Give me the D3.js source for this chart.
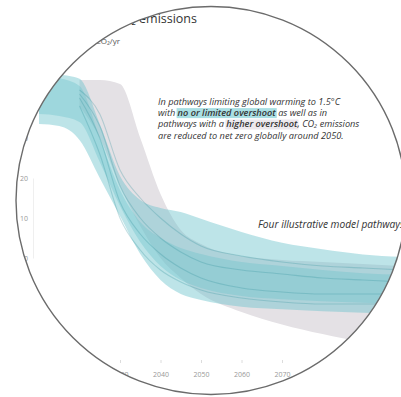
<!DOCTYPE html>
<html><head><meta charset="utf-8">
<script src="https://cdn.jsdelivr.net/npm/d3@7/dist/d3.min.js"></script>
<style>html,body{margin:0;padding:0;background:#fff;}svg{display:block;}text{white-space:pre;}</style>
</head><body>
<svg id="chart" width="401" height="397"></svg>
<script>
// ---- data (Billion tonnes of CO2/yr) ----
const years = [2010, 2015, 2020, 2025, 2030, 2035, 2040, 2045, 2050, 2060, 2070, 2080, 2090, 2100];
// no or limited overshoot: full range
const tealMax = [48, 46, 44.8, 33.5, 20.5, 14.5, 12.5, 11.5, 9.8, 6.5, 3.8, 2.2, 0.9, 0.3];
const tealMin = [33.5, 33, 29.5, 20, 10.5, 1, -5.5, -9, -10.5, -12.2, -12.8, -13.3, -13.7, -14];
// no or limited overshoot: central range
const innerMax = [46, 45, 43, 30, 17, 9, 5, 2.5, 1, -1, -2, -3, -3.8, -4.2];
const innerMin = [36, 35.5, 34, 24, 13, 4, -2, -5.5, -7.5, -9.5, -10.3, -10.8, -11.2, -11.5];
// higher overshoot
const grayMax = [null, null, 44.5, 44.5, 43.5, 30, 16, 7, 3.5, 0.5, -0.5, -1, -1.5, -2];
const grayMin = [null, null, 38, 30, 18, 8, 0, -5, -9, -13.5, -16.6, -19, -21, -22];
// four illustrative model pathways
const path1 = [null, null, 42, 36, 22, 15, 10, 6, 3, 0.5, -1, -2, -2.5, -3];
const path2 = [null, null, 41, 33, 18, 10, 5, 1.5, -1, -3, -4, -5, -5.5, -6];
const path3 = [null, null, 40, 30, 14, 6, 1, -2.5, -5, -7.5, -8.5, -9, -9, -9];
const path4 = [null, null, 38, 26, 10, 2, -3, -6, -8, -10, -11, -11.5, -11.5, -11.5];
const xTicks = [2020, 2030, 2040, 2050, 2060, 2070, 2080, 2090];
const yTicks = [-20, -10, 0, 10, 20, 30, 40, 50];

const title = "Global total net CO₂ emissions";
const subtitle = "Billion tonnes of CO₂/yr";
const noteLines = [
  [["In pathways limiting global warming to 1.5°C", null]],
  [["with ", null], ["no or limited overshoot", "teal"], [" as well as in", null]],
  [["pathways with a ", null], ["higher overshoot", "gray"], [", CO₂ emissions", null]],
  [["are reduced to net zero globally around 2050.", null]]
];
const pathwayLabel = "Four illustrative model pathways";

// ---- drawing ----
const svg = d3.select("#chart");
const lcx = 211, lcy = 200.5, lrx = 195, lry = 194;
svg.append("defs").append("clipPath").attr("id", "lens")
  .append("ellipse").attr("cx", lcx).attr("cy", lcy).attr("rx", lrx).attr("ry", lry);
const g = svg.append("g").attr("clip-path", "url(#lens)");
g.append("rect").attr("x", 0).attr("y", 0).attr("width", 401).attr("height", 397).attr("fill", "#fff");

const x = d3.scaleLinear().domain([2030, 2070]).range([120, 282]);
const y = d3.scaleLinear().domain([0, 20]).range([258, 178]);

// axes
const xAxis = g.append("g").attr("transform", "translate(0,360)")
  .call(d3.axisBottom(x).tickValues(xTicks).tickFormat(d3.format("d")).tickSize(3).tickPadding(9));
xAxis.select(".domain").remove();
xAxis.selectAll("line").attr("stroke", "#dcdcdc");
xAxis.selectAll("text").attr("fill", "#999").style("font", "7px 'Open Sans', sans-serif");

const yAxis = g.append("g").attr("transform", "translate(33,0)")
  .call(d3.axisLeft(y).tickValues(yTicks).tickSize(0).tickPadding(5));
yAxis.select(".domain").attr("stroke", "#efefef");
yAxis.selectAll("text").attr("fill", "#999").style("font", "7px 'Open Sans', sans-serif");

const idx = d3.range(years.length);
function band(lo, hi) {
  return d3.area().defined(i => lo[i] != null && hi[i] != null)
    .x(i => x(years[i])).y0(i => y(lo[i])).y1(i => y(hi[i])).curve(d3.curveMonotoneX)(idx);
}
function line(v) {
  return d3.line().defined(i => v[i] != null)
    .x(i => x(years[i])).y(i => y(v[i])).curve(d3.curveMonotoneX)(idx);
}

g.append("path").attr("d", band(grayMin, grayMax)).attr("fill", "#e4e1e5");
g.append("path").attr("d", band(tealMin, tealMax)).attr("fill", "#6cc3cb").attr("fill-opacity", 0.45);
g.append("path").attr("d", band(innerMin, innerMax)).attr("fill", "#6cc3cb").attr("fill-opacity", 0.38);
[path1, path2, path3, path4].forEach(p => {
  g.append("path").attr("d", line(p)).attr("fill", "none")
    .attr("stroke", "#2f8f9b").attr("stroke-opacity", 0.28).attr("stroke-width", 1.1);
});

// texts
g.append("text").attr("x", 197).attr("y", 22.5).attr("text-anchor", "end")
  .attr("fill", "#333").style("font", "12.5px 'Open Sans', sans-serif").text(title);
g.append("text").attr("x", 120).attr("y", 44).attr("text-anchor", "end")
  .attr("fill", "#555").style("font", "8px 'Open Sans', sans-serif").text(subtitle);

const noteFont = "italic 9.2px 'Open Sans', sans-serif";
const noteBold = "italic 600 9.2px 'Open Sans', sans-serif";
const nx = 158, ny0 = 104.5, dy = 11.4;
const hlLayer = g.append("g");
noteLines.forEach((parts, li) => {
  const yy = ny0 + li * dy;
  const t = g.append("text").attr("x", nx).attr("y", yy).attr("fill", "#333").style("font", noteFont);
  const spans = parts.map(([s, hl]) => {
    const ts = t.append("tspan").text(s);
    if (hl) ts.style("font-weight", 600);
    return [ts, hl];
  });
  let xx = nx;
  spans.forEach(([ts, hl]) => {
    const ww = ts.node().getComputedTextLength();
    if (hl) {
      hlLayer.append("rect").attr("x", xx - 1).attr("y", yy - 7.8).attr("width", ww + 2).attr("height", 10)
        .attr("fill", hl === "teal" ? "#a9dfe3" : "#ece8ed");
    }
    xx += ww;
  });
});

g.append("text").attr("x", 258).attr("y", 228).attr("fill", "#333")
  .style("font", "italic 10.2px 'Open Sans', sans-serif").text(pathwayLabel);

// lens border
svg.append("ellipse").attr("cx", lcx).attr("cy", lcy).attr("rx", lrx).attr("ry", lry)
  .attr("fill", "none").attr("stroke", "#6b6b6b").attr("stroke-width", 1.4);
</script>
</body></html>
